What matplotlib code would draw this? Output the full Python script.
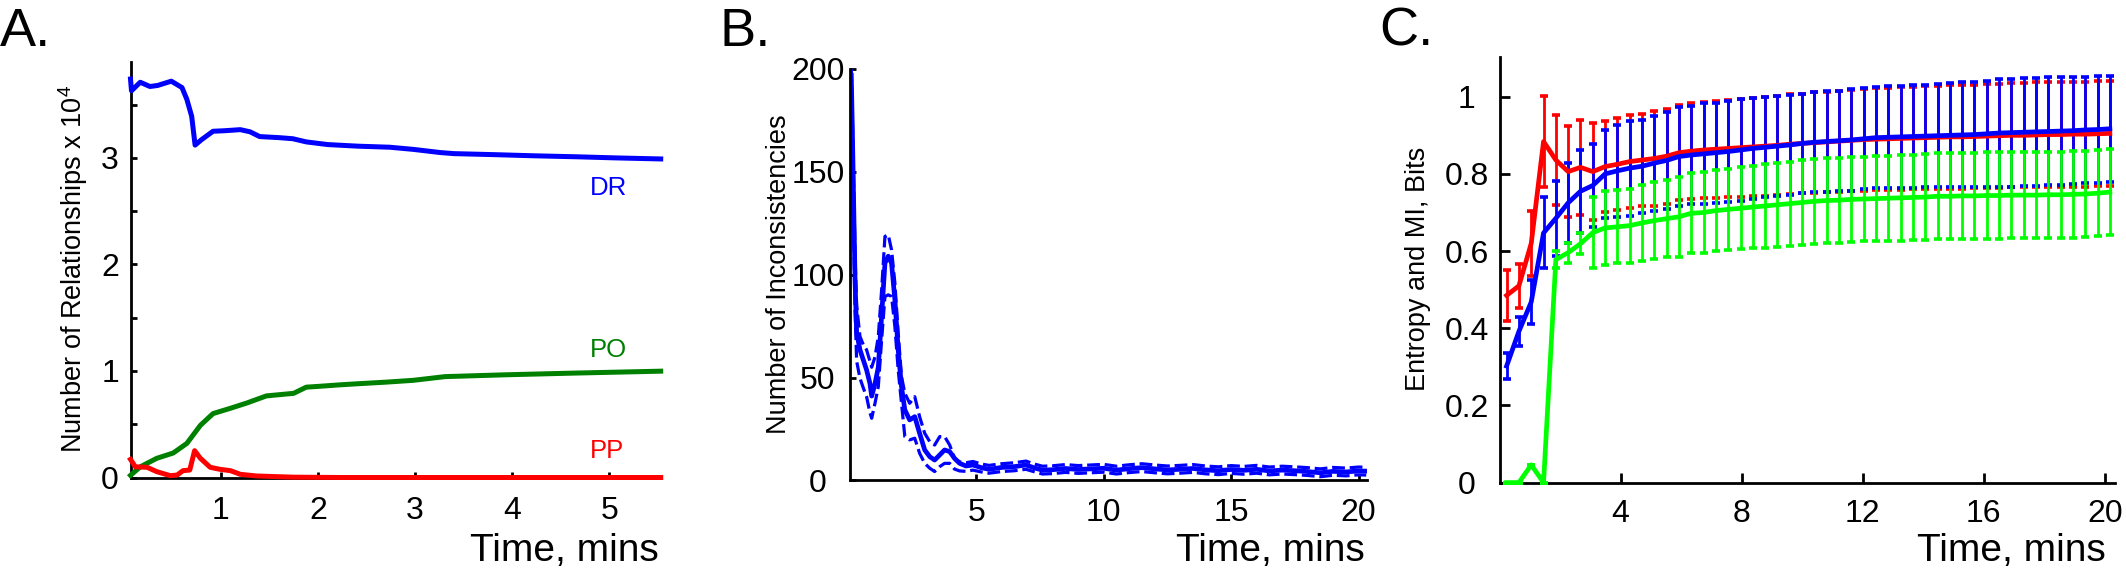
import matplotlib
matplotlib.use('Agg')
import matplotlib.pyplot as plt
import numpy as np

plt.rcParams['font.family'] = ['Liberation Sans', 'DejaVu Sans']
plt.rcParams['mathtext.fontset'] = 'custom'
plt.rcParams['mathtext.rm'] = 'Liberation Sans'
plt.rcParams['mathtext.it'] = 'Liberation Sans:italic'
plt.rcParams['mathtext.bf'] = 'Liberation Sans:bold'

# ---------------- Panel A data ----------------
dr_t = [0.07, 0.08, 0.17, 0.27, 0.35, 0.49, 0.60, 0.65, 0.70, 0.735, 0.80, 0.92, 1.04, 1.20, 1.30,
        1.40, 1.60, 1.74, 1.88, 2.10, 2.41, 2.74, 2.98, 3.26, 3.40, 3.83, 4.21, 4.68, 5.06, 5.53]
dr_v = [3.74, 3.63, 3.71, 3.67, 3.68, 3.72, 3.66, 3.55, 3.39, 3.12, 3.17, 3.25, 3.255, 3.265, 3.245,
        3.20, 3.19, 3.18, 3.15, 3.125, 3.11, 3.10, 3.08, 3.05, 3.04, 3.03, 3.02, 3.01, 3.00, 2.99]
po_t = [0.07, 0.17, 0.34, 0.51, 0.65, 0.79, 0.92, 1.10, 1.27, 1.47, 1.75, 1.88, 2.00, 2.23, 2.41,
        2.70, 2.98, 3.31, 3.93, 4.64, 5.53]
po_v = [0.02, 0.10, 0.18, 0.23, 0.32, 0.49, 0.60, 0.65, 0.70, 0.766, 0.79, 0.848, 0.855, 0.87, 0.88,
        0.895, 0.912, 0.947, 0.964, 0.98, 0.998]
pp_t = [0.07, 0.12, 0.24, 0.34, 0.48, 0.55, 0.61, 0.68, 0.73, 0.79, 0.89, 0.99, 1.10, 1.20, 1.37,
        1.75, 2.23, 5.53]
pp_v = [0.17, 0.10, 0.096, 0.055, 0.017, 0.023, 0.064, 0.07, 0.252, 0.18, 0.096, 0.077, 0.064, 0.03,
        0.014, 0.003, 0.0, 0.0]
a_series_labels = ['DR', 'PO', 'PP']
a_yticks = [0, 0.5, 1, 1.5, 2, 2.5, 3, 3.5]
a_yticklabels = ['0', '', '1', '', '2', '', '3', '']
a_xticks = [1, 2, 3, 4, 5]

# ---------------- Panel B data ----------------
b_t = [0.10, 0.15, 0.20, 0.25, 0.31, 0.44, 0.57, 0.70, 0.83, 0.90,
       1.03, 1.16, 1.29, 1.42, 1.55, 1.68, 1.81, 1.94, 2.07, 2.20,
       2.39, 2.59, 2.78, 2.98, 3.18, 3.37, 3.57, 3.76, 3.96, 4.15,
       4.35, 4.60, 4.87, 5.2, 5.5, 6.0, 6.5, 6.95, 7.3, 7.6,
       8.0, 8.5, 9.0, 9.5, 10.0, 10.5, 11.0, 11.5, 12.0, 12.5,
       13.0, 13.5, 14.0, 14.5, 15.0, 15.5, 16.0, 16.5, 17.0, 17.5,
       18.0, 18.5, 19.0, 19.5, 20.0, 20.3]
b_mean = [197, 165, 130, 96, 72, 63.5, 58.6, 53.7, 47.2, 41,
          47, 55, 80, 105.6, 109, 105.6, 87.8, 63.5, 45.6, 34.3,
          29.4, 31, 22.9, 14.8, 11.5, 9.9, 12.4, 14.8, 14.0, 10.7,
          8.3, 7.0, 7.5, 6.2, 5.4, 6.3, 6.7, 7.5, 6.0, 5.0,
          5.2, 5.8, 5.3, 5.6, 5.9, 5.0, 5.7, 6.2, 5.6, 5.1,
          5.4, 5.8, 5.1, 4.7, 5.3, 4.9, 5.4, 4.6, 5.0, 4.7,
          4.3, 3.7, 4.4, 4.1, 4.6, 4.5]
b_upper = [200, 172, 140, 108, 85, 70, 66, 63.5, 58, 55,
           60, 70, 92.6, 118.6, 119.4, 112, 96, 71.6, 50.5, 42.4,
           37.5, 40.7, 31, 22.9, 18.8, 17.2, 21.3, 21.3, 17.2, 10.7,
           9.0, 8.6, 9.2, 8.0, 7.3, 8.1, 8.6, 9.4, 7.9, 6.9,
           7.1, 7.7, 7.2, 7.5, 7.8, 6.9, 7.6, 8.1, 7.5, 7.0,
           7.3, 7.7, 7.0, 6.6, 7.2, 6.8, 7.3, 6.5, 6.9, 6.6,
           6.2, 5.6, 6.3, 6.0, 6.5, 6.4]
b_lower = [194, 158, 118, 82, 58, 49.7, 45, 40.7, 33, 30.2,
           37.5, 45.6, 68.3, 89.4, 90.2, 89.4, 74.8, 53.7, 37.5, 21.3,
           19.7, 20.5, 13.2, 8.3, 5.9, 4.3, 6.7, 8.3, 8.3, 5.5,
           4.6, 4.4, 5.0, 4.1, 3.5, 4.3, 4.7, 5.4, 4.1, 3.1,
           3.3, 3.9, 3.4, 3.7, 4.0, 3.1, 3.8, 4.3, 3.7, 3.2,
           3.5, 3.9, 3.2, 2.8, 3.4, 3.0, 3.5, 2.7, 3.1, 2.8,
           2.4, 1.8, 2.5, 2.2, 2.7, 2.6]
b_yticks = [0, 50, 100, 150, 200]
b_xticks = [5, 10, 15, 20]

# ---------------- Panel C data ----------------
c_t = np.linspace(0.235, 20.17, 50)   # regular sampling times (min)
red_m = [.485, .51, .62, .884, .836, .806, .817, .806, .819, .825, .832, .836, .840, .846, .855, .859, .862,
         .864, .866, .868, .870, .872, .874, .877, .879, .881, .883, .885, .887, .889, .890, .891, .892, .893,
         .894, .895, .896, .896, .897, .898, .899, .900, .900, .901, .902, .902, .903, .903, .904, .905]
red_e = [.065, .057, .085, .117, .117, .118, .123, .125, .118, .119, .121, .120, .123, .123, .123, .124, .125,
         .126, .126, .127, .127, .128, .128, .129, .129, .130, .130, .131, .131, .132, .132, .132, .133, .133,
         .133, .134, .134, .134, .134, .135, .135, .135, .135, .136, .136, .136, .136, .136, .136, .136]
blue_m = [.302, .392, .468, .647, .685, .725, .755, .77, .80, .808, .815, .82, .828, .835, .845, .849, .852,
          .855, .858, .862, .866, .869, .872, .875, .879, .882, .884, .886, .888, .891, .894, .895, .896, .897,
          .898, .899, .900, .901, .902, .904, .906, .907, .908, .909, .910, .911, .912, .914, .915, .917]
blue_e = [.033, .038, .057, .092, .097, .103, .107, .107, .114, .119, .123, .12, .123, .126, .129, .127, .131,
          .13, .132, .131, .131, .130, .130, .129, .129, .129, .130, .130, .131, .131, .131, .132, .132, .133,
          .133, .134, .135, .136, .137, .138, .140, .140, .140, .140, .140, .140, .139, .138, .138, .137]
green_m = [0.0, 0.0, .046, 0.0, .578, .596, .619, .648, .66, .663, .666, .673, .679, .684, .689, .698, .70,
           .705, .708, .711, .714, .717, .72, .723, .726, .729, .731, .732, .734, .735, .736, .737, .738, .739,
           .740, .742, .742, .743, .743, .744, .744, .745, .745, .745, .746, .746, .747, .748, .750, .753]
green_e = [0, 0, 0, 0, .022, .026, .027, .093, .096, .095, .096, .098, .10, .10, .104, .104, .104, .105, .106,
           .106, .107, .108, .109, .109, .110, .110, .110, .110, .110, .110, .110, .110, .111, .111, .111, .111,
           .111, .111, .112, .112, .112, .112, .112, .112, .112, .112, .112, .112, .112, .112]
c_yticks = [0, 0.2, 0.4, 0.6, 0.8, 1.0]
c_yticklabels = ['0', '0.2', '0.4', '0.6', '0.8', '1']
c_xticks = [4, 8, 12, 16, 20]

W, H = 2126, 568
fig = plt.figure(figsize=(W / 100, H / 100), dpi=100)


def px_axes(left, right, bottom, top):
    return fig.add_axes([left / W, (H - bottom) / H, (right - left) / W, (bottom - top) / H])


def style(ax, ticklen, xpad, ypad):
    for s in ['top', 'right']:
        ax.spines[s].set_visible(False)
    for s in ['left', 'bottom']:
        ax.spines[s].set_linewidth(2)
        ax.spines[s].set_color('black')
    ax.tick_params(direction='in', length=ticklen, width=2, labelsize=23, colors='black')
    ax.tick_params(axis='x', pad=xpad)
    ax.tick_params(axis='y', pad=ypad)
    ax.patch.set_alpha(0)


def center_ylabels(ax):
    for lab in ax.get_yticklabels():
        lab.set_horizontalalignment('center')


# ---------------- Panel A ----------------
axA = px_axes(131, 661, 477.5, 62)
axA.plot(dr_t, dr_v, color='#0000ff', lw=3.6, clip_on=False, zorder=3)
axA.plot(po_t, po_v, color='#008000', lw=3.6, clip_on=False, zorder=3)
axA.plot(pp_t, pp_v, color='#ff0000', lw=3.6, clip_on=False, zorder=3)
axA.set_xlim(0.075, 5.533)
axA.set_ylim(0, 3.9)
axA.set_yticks(a_yticks, labels=a_yticklabels)
axA.set_xticks(a_xticks)
style(axA, 4, 13.3, 15.1)
center_ylabels(axA)
for lab, yv, col in zip(a_series_labels, [2.65, 1.133, 0.18], ['#0000ff', '#008000', '#ff0000']):
    axA.text(4.80, yv, lab, color=col, fontsize=18.5, ha='left', va='baseline')

# ---------------- Panel B ----------------
axB = px_axes(849.5, 1367, 480.4, 69)
axB.plot(b_t, b_upper, color='#0000ff', lw=2.3, ls=(0, (4, 1.5)))
axB.plot(b_t, b_lower, color='#0000ff', lw=2.3, ls=(0, (4, 1.5)))
axB.plot(b_t, b_mean, color='#0000ff', lw=3.4)
axB.set_xlim(0.03, 20.33)
axB.set_ylim(0, 200)
axB.set_yticks(b_yticks)
axB.set_xticks(b_xticks)
style(axB, 4.5, 12.7, 22.7)
center_ylabels(axB)

# ---------------- Panel C ----------------
axC = px_axes(1499.5, 2115, 482.6, 57)
for m, e, col in [(red_m, red_e, '#ff0000'), (blue_m, blue_e, '#0000ff'), (green_m, green_e, '#00ff00')]:
    axC.errorbar(c_t, m, yerr=e, color=col, lw=3.4, elinewidth=2.0, capsize=2.8, capthick=2.6,
                 clip_on=False, zorder=3)
axC.set_xlim(0, 20.34)
axC.set_ylim(0, 1.103)
axC.set_yticks(c_yticks, labels=c_yticklabels)
axC.set_xticks(c_xticks)
style(axC, 7, 11.8, 23.4)
center_ylabels(axC)

# ---------------- Figure texts ----------------
def ftext(x, y, s, **kw):
    fig.text(x / W, (H - y) / H, s, **kw)

ftext(73.3, 269, 'Number of Relationships x 10$^{4}$', rotation=90, ha='center', va='center', fontsize=19.5)
ftext(779.3, 274.5, 'Number of Inconsistencies', rotation=90, ha='center', va='center', fontsize=19.5)
ftext(1418.3, 269, 'Entropy and MI, Bits', rotation=90, ha='center', va='center', fontsize=19.5)

for xr in [658.3, 1365, 2106]:
    ftext(xr, 560.7, 'Time, mins', ha='right', va='baseline', fontsize=28)

for xl, lab in [(0, 'A.'), (720, 'B.'), (1379, 'C.')]:
    ftext(xl, 45.5, lab, ha='left', va='baseline', fontsize=39)

fig.savefig('out.png', dpi=100)
